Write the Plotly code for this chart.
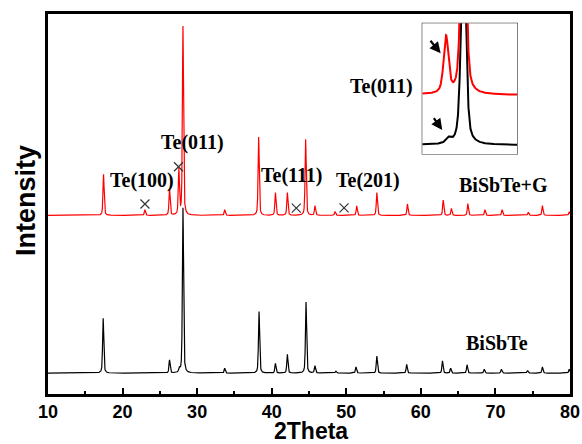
import numpy as np
import plotly.graph_objects as go

# ---- data ----
black_pos = [17.4, 26.3, 27.62, 28.1, 33.7, 38.3, 40.5, 42.1, 44.6, 45.8, 48.6, 51.3, 54.1, 58.1, 62.9, 64.0, 66.2, 68.5, 70.8, 74.3, 76.3, 79.9]
black_h   = [14.4, 3.4, 1.0, 43.5, 1.3, 16.2, 2.5, 4.9, 18.7, 1.9, 0.5, 1.6, 4.5, 2.3, 3.2, 1.3, 2.2, 1.0, 1.0, 0.7, 1.6, 1.0]
black_base = 5.5

red_pos = [17.45, 23.0, 26.3, 27.55, 28.1, 33.7, 38.25, 40.5, 42.1, 44.55, 45.8, 48.5, 51.4, 54.1, 58.2, 63.0, 64.1, 66.3, 68.6, 70.9, 74.4, 76.3, 79.9]
red_h   = [10.8, 1.5, 7.0, 11.8, 49.7, 1.5, 20.6, 6.0, 6.0, 20.0, 2.5, 1.0, 2.5, 6.0, 3.0, 4.0, 1.8, 3.1, 1.5, 1.5, 0.8, 2.6, 1.0]
red_base = 47.0

cross_x = [23.0, 27.5, 43.3, 49.7]
cross_y = [50.0, 59.8, 48.9, 49.0]

peak_fwhm = 0.18
x_ticks = [10, 20, 30, 40, 50, 60, 70, 80]

inset_range = [26.8, 29.8]
inset_red_offset, inset_black_offset, inset_scale = 59.0, 9.0, 4.8


def profile(x, pos, h, base, w=peak_fwhm, eta=0.5):
    x = np.asarray(x)
    y = np.full_like(x, base, dtype=float)
    g = w / 2.0
    sig = w / 2.3548
    for p, a in zip(pos, h):
        lor = 1.0 / (1.0 + ((x - p) / g) ** 2)
        gau = np.exp(-0.5 * ((x - p) / sig) ** 2)
        y += a * (eta * lor + (1 - eta) * gau)
    return y


x = np.linspace(10, 80, 7001)
yb = profile(x, black_pos, black_h, black_base)
yr = profile(x, red_pos, red_h, red_base)

xi = np.linspace(inset_range[0], inset_range[1], 601)
yib = inset_black_offset + inset_scale * (profile(xi, black_pos, black_h, black_base) - black_base)
yir = inset_red_offset + inset_scale * (profile(xi, red_pos, red_h, red_base) - red_base)

fig = go.Figure()
fig.add_trace(go.Scatter(x=x, y=yb, mode="lines", line=dict(color="black", width=1.2), showlegend=False))
fig.add_trace(go.Scatter(x=x, y=yr, mode="lines", line=dict(color="#ff0000", width=1.2), showlegend=False))
fig.add_trace(go.Scatter(x=cross_x, y=cross_y, mode="markers",
                         marker=dict(symbol="x-thin", size=9, line=dict(width=1.2, color="#333333")),
                         showlegend=False))
fig.add_trace(go.Scatter(x=xi, y=yib, mode="lines", line=dict(color="black", width=2),
                         xaxis="x2", yaxis="y2", showlegend=False))
fig.add_trace(go.Scatter(x=xi, y=yir, mode="lines", line=dict(color="#ff0000", width=2),
                         xaxis="x2", yaxis="y2", showlegend=False))

W, H = 582, 444
L, R, T, B = 48, 12, 14, 50
pw, ph = W - L - R, H - T - B


def px2paper(px, py):
    return (px - L) / pw, (H - B - py) / ph


ix0, iy0 = px2paper(422.3, 154)
ix1, iy1 = px2paper(517.3, 23.3)

serif = dict(family="Liberation Serif, Times New Roman, serif", size=20, color="black", weight="bold")
annots = []
for txt, ax_, ay_ in [("Te(100)", 22.57, 56.3), ("Te(011)", 29.44, 66.1), ("Te(111)", 42.68, 57.6),
                      ("Te(201)", 52.95, 56.3), ("BiSbTe+G", 71.06, 55.0), ("BiSbTe", 70.2, 13.4),
                      ("Te(011)", 54.66, 81.05)]:
    annots.append(dict(x=ax_, y=ay_, xref="x", yref="y", text=txt, showarrow=False, font=serif,
                       xanchor="center", yanchor="middle"))

# inset arrows
for (tx, ty, hx, hy) in [(27.02, 114.7, 27.38, 100.7), (27.13, 37.3, 27.43, 24.0)]:
    annots.append(dict(x=hx, y=hy, ax=tx, ay=ty, xref="x2", yref="y2", axref="x2", ayref="y2",
                       text="", showarrow=True, arrowhead=2, arrowsize=1, arrowwidth=2.2, arrowcolor="black"))

sans_b = dict(family="Liberation Sans, Arial, sans-serif", color="black", weight="bold")
gx, gy = px2paper(311, 431)
annots.append(dict(x=gx, y=gy, xref="paper", yref="paper", text="2Theta", showarrow=False,
                   font=dict(**sans_b, size=23), xanchor="center", yanchor="middle"))
hx_, hy_ = px2paper(26, 201)
annots.append(dict(x=hx_, y=hy_, xref="paper", yref="paper", text="Intensity", showarrow=False,
                   font=dict(**sans_b, size=27), textangle=-90, xanchor="center", yanchor="middle"))

fig.update_layout(
    width=W, height=H,
    margin=dict(l=L, r=R, t=T, b=B, autoexpand=False),
    paper_bgcolor="white", plot_bgcolor="white",
    xaxis=dict(range=[10, 80], tickvals=x_ticks, ticks="inside", ticklen=6, tickwidth=2, tickcolor="black",
               showline=True, linewidth=2.5, linecolor="black", mirror=True, showgrid=False, zeroline=False,
               tickfont=dict(**sans_b, size=18), automargin=False,
               minor=dict(dtick=5, tick0=10, ticks="inside", ticklen=3, tickwidth=2, tickcolor="black")),
    yaxis=dict(range=[0, 100], showticklabels=False, ticks="", showline=True, linewidth=2.5,
               linecolor="black", mirror=True, showgrid=False, zeroline=False, automargin=False),
    xaxis2=dict(domain=[ix0, ix1], anchor="y2", range=inset_range, showticklabels=False, ticks="",
                showgrid=False, zeroline=False, showline=False),
    yaxis2=dict(domain=[iy0, iy1], anchor="x2", range=[0, 130.7], showticklabels=False, ticks="",
                showgrid=False, zeroline=False, showline=False),
    shapes=[dict(type="rect", xref="paper", yref="paper", x0=ix0, y0=iy0, x1=ix1, y1=iy1,
                 fillcolor="#f5f5f5", line=dict(color="#333333", width=1.2), layer="below")],
    annotations=annots,
)

fig.write_html("out.html", config={"displayModeBar": False},
               post_script="document.body.style.margin='0';document.body.style.padding='0';"
                           "document.body.style.overflow='hidden';")
